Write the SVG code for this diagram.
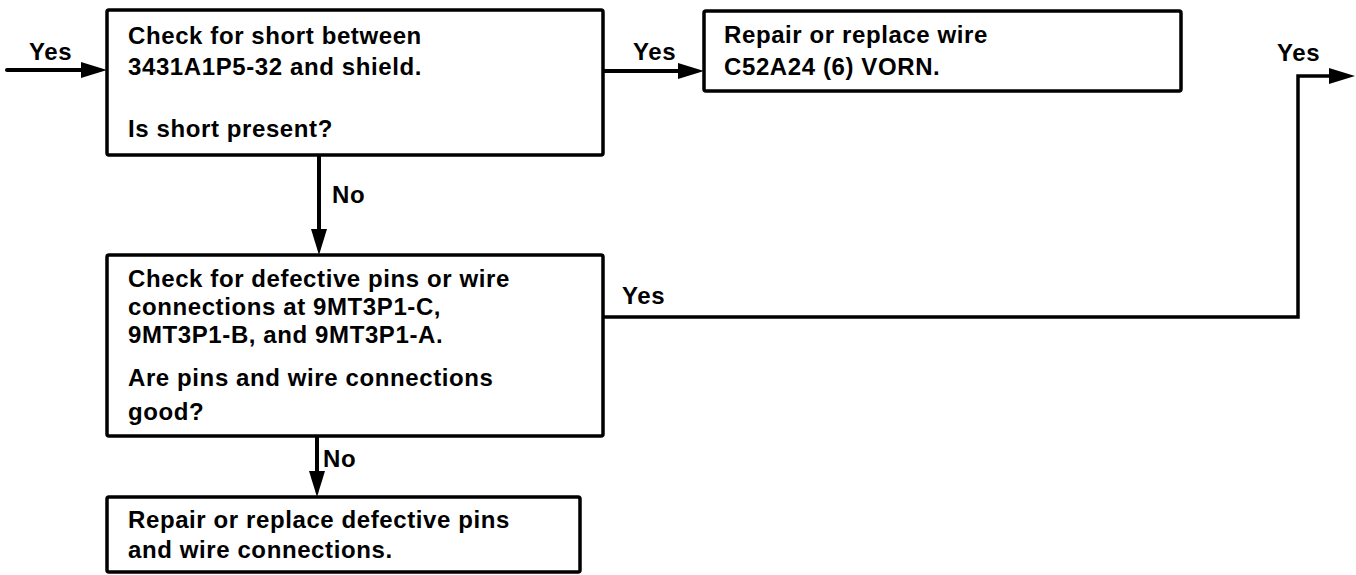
<svg xmlns="http://www.w3.org/2000/svg" width="1356" height="575" viewBox="0 0 1356 575">
<defs>
<marker id="ah" viewBox="0 0 26 16" refX="18" refY="8" markerWidth="26" markerHeight="16" markerUnits="userSpaceOnUse" orient="auto">
<path d="M0,0 L26,8 L0,16 z" fill="#000"/>
</marker>
<style>
.box{fill:#fff;stroke:#000;stroke-width:3.5}
.t{font-family:"Liberation Sans",Arial,sans-serif;font-weight:bold;font-size:24px;letter-spacing:0.6px;fill:#000}
.c{fill:none;stroke:#000;stroke-width:4;stroke-linejoin:miter}
</style>
</defs>
<rect width="1356" height="575" fill="#fff"/>
<g id="connectors">
<line class="c" x1="7" y1="70" x2="99" y2="70" marker-end="url(#ah)" style="stroke-linecap:round"/>
<line class="c" x1="603" y1="71" x2="696" y2="71" marker-end="url(#ah)"/>
<line class="c" x1="319" y1="155" x2="319" y2="247" marker-end="url(#ah)"/>
<line class="c" x1="317" y1="437" x2="317" y2="489" marker-end="url(#ah)"/>
<path class="c" d="M603,317 L1298,317 L1298,76 L1347,76" style="stroke-width:3.5" marker-end="url(#ah)"/>
<text class="t" x="29" y="60">Yes</text>
<text class="t" x="633" y="60">Yes</text>
<text class="t" x="1277" y="61">Yes</text>
<text class="t" x="622" y="304">Yes</text>
<text class="t" x="332" y="203">No</text>
<text class="t" x="323" y="467">No</text>
</g>
<g id="n1">
<rect class="box" x="107" y="10" width="496" height="145" rx="2"/>
<text class="t" x="128" y="44">Check for short between</text>
<text class="t" x="128" y="75">3431A1P5-32 and shield.</text>
<text class="t" x="128" y="137">Is short present?</text>
</g>
<g id="n2">
<rect class="box" x="704" y="11" width="477" height="80" rx="2"/>
<text class="t" x="724" y="43">Repair or replace wire</text>
<text class="t" x="724" y="75">C52A24 (6) VORN.</text>
</g>
<g id="n3">
<rect class="box" x="107" y="255" width="496" height="181" rx="2"/>
<text class="t" x="128" y="287">Check for defective pins or wire</text>
<text class="t" x="128" y="315">connections at 9MT3P1-C,</text>
<text class="t" x="128" y="343">9MT3P1-B, and 9MT3P1-A.</text>
<text class="t" x="128" y="386">Are pins and wire connections</text>
<text class="t" x="128" y="420">good?</text>
</g>
<g id="n4">
<rect class="box" x="107" y="497" width="473" height="75" rx="2"/>
<text class="t" x="128" y="528">Repair or replace defective pins</text>
<text class="t" x="128" y="558">and wire connections.</text>
</g>
</svg>
